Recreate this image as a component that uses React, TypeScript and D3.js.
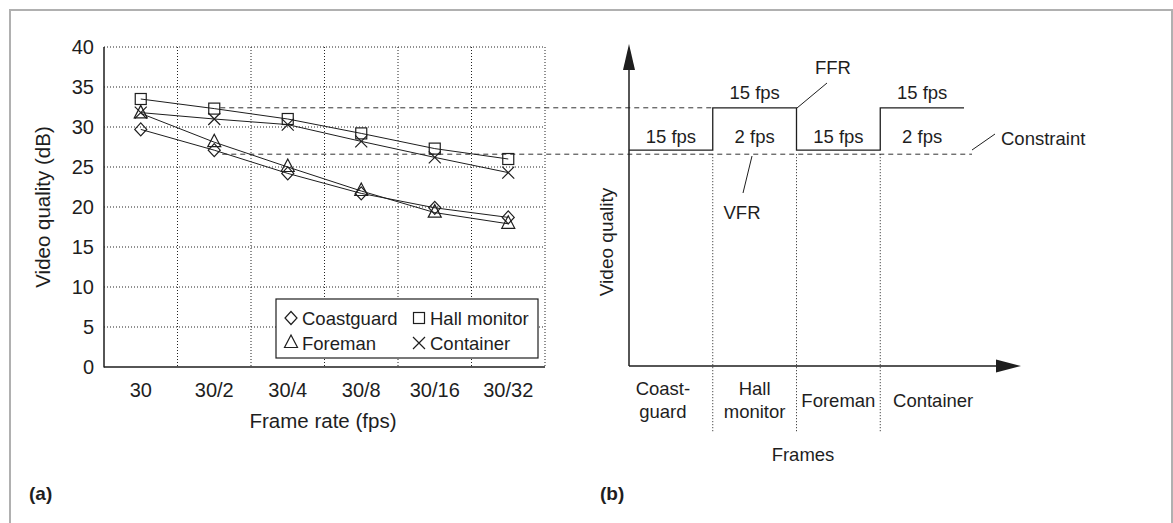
import * as d3 from 'd3';

// left panel data
const frameRates = ['30', '30/2', '30/4', '30/8', '30/16', '30/32'];
const coastguard = [29.7, 27.1, 24.2, 21.7, 19.9, 18.7];
const hallMonitor = [33.5, 32.3, 31.0, 29.2, 27.3, 26.0];
const foreman = [31.7, 28.1, 25.0, 22.0, 19.3, 17.9];
const container = [31.8, 31.0, 30.3, 28.2, 26.2, 24.3];
const yTicks = [0, 5, 10, 15, 20, 25, 30, 35, 40];

// right panel data
const frames = ['Coastguard', 'Hall monitor', 'Foreman', 'Container'];
const frameLines = [['Coast-', 'guard'], ['Hall', 'monitor'], ['Foreman'], ['Container']];
const stepLevel = [27.1, 32.4, 27.1, 32.4];
const lowLabels = ['15 fps', '2 fps', '15 fps', '2 fps'];
const highLabels = ['', '15 fps', '', '15 fps'];
const ffrLevel = 32.4;
const constraintLevel = 26.6;

const W = 1173;
const H = 523;
const font = '"Liberation Sans", Arial, Helvetica, sans-serif';
const ink = '#1e1e1e';
const grid = '#222';

const series = [
  { name: 'Coastguard', values: coastguard, shape: 'diamond' },
  { name: 'Hall monitor', values: hallMonitor, shape: 'square' },
  { name: 'Foreman', values: foreman, shape: 'triangle' },
  { name: 'Container', values: container, shape: 'cross' },
];

function Marker({ shape, x, y }: { shape: string; x: number; y: number }) {
  const s = 5.5;
  const common = { fill: 'none', stroke: ink, strokeWidth: 1.2 };
  if (shape === 'square') return <rect x={x - s} y={y - s} width={2 * s} height={2 * s} {...common} />;
  if (shape === 'diamond')
    return <path d={`M${x},${y - 6.5}L${x + 6},${y}L${x},${y + 6.5}L${x - 6},${y}Z`} {...common} />;
  if (shape === 'triangle')
    return <path d={`M${x},${y - 8}L${x + 6.5},${y + 4.5}L${x - 6.5},${y + 4.5}Z`} {...common} />;
  return <path d={`M${x - 6},${y - 6}L${x + 6},${y + 6}M${x + 6},${y - 6}L${x - 6},${y + 6}`} {...common} />;
}

export default function App() {
  const yL = d3.scaleLinear().domain([0, 40]).range([367, 47]);
  const xL = d3.scaleBand().domain(frameRates).range([104, 545]);
  const bw = xL.bandwidth();
  const cx = (r: string) => (xL(r) as number) + bw / 2;

  const xR = d3.scaleBand().domain(frames).range([629, 964]);
  const rbw = xR.bandwidth();
  const axisY0 = 366;

  const line = d3
    .line<number>()
    .x((_, i) => cx(frameRates[i]))
    .y(d => yL(d));

  const stepPts: [number, number][] = [];
  frames.forEach((f, i) => {
    const x0 = xR(f) as number;
    stepPts.push([x0, yL(stepLevel[i])]);
    stepPts.push([x0 + rbw, yL(stepLevel[i])]);
  });
  const stepPath = d3.line()(stepPts) as string;

  const labelOffset = [-8, 0, 0, 11];

  return (
    <svg width={W} height={H} style={{ position: 'absolute', left: 0, top: 0, background: '#fff' }} fontFamily={font}>
      {/* outer frame */}
      <path d={`M10,${H}V10H1172V${H}`} fill="none" stroke="#b0b0b0" strokeWidth={2} />

      {/* ---- panel (a) ---- */}
      {yTicks.filter(t => t > 0).map(t => (
        <line key={'h' + t} x1={104} x2={545} y1={yL(t)} y2={yL(t)} stroke={grid} strokeWidth={1} strokeDasharray="1,2" />
      ))}
      {frameRates.map(r => (
        <line key={'v' + r} x1={(xL(r) as number) + bw} x2={(xL(r) as number) + bw} y1={yL(40)} y2={yL(0)} stroke={grid} strokeWidth={1} strokeDasharray="1,2" />
      ))}
      <line x1={104} x2={104} y1={yL(40)} y2={yL(0) + 0.5} stroke={ink} strokeWidth={1.5} />
      <line x1={104} x2={545} y1={yL(0)} y2={yL(0)} stroke={ink} strokeWidth={1.5} />
      {yTicks.map(t => (
        <text key={'yt' + t} x={94} y={yL(t)} dy="0.36em" textAnchor="end" fontSize={20} fill={ink}>{t}</text>
      ))}
      {frameRates.map(r => (
        <text key={'xt' + r} x={cx(r)} y={397} textAnchor="middle" fontSize={20} fill={ink}>{r}</text>
      ))}
      <text x={323} y={428} textAnchor="middle" fontSize={20.5} fill={ink}>Frame rate (fps)</text>
      <text transform="translate(50,207) rotate(-90)" textAnchor="middle" fontSize={20.5} fill={ink}>Video quality (dB)</text>

      {/* dashed links to panel (b) */}
      <line x1={cx('30/2') + 6} x2={xR('Hall monitor') as number} y1={yL(ffrLevel)} y2={yL(ffrLevel)} stroke="#333" strokeWidth={1} strokeDasharray="5,4" />
      <line x1={cx('30/2') + 8} x2={972} y1={yL(constraintLevel)} y2={yL(constraintLevel)} stroke="#333" strokeWidth={1} strokeDasharray="5,4" />

      {series.map(s => (
        <g key={s.name}>
          <path d={line(s.values) as string} fill="none" stroke={ink} strokeWidth={1} />
          {s.values.map((v, i) => (
            <Marker key={i} shape={s.shape} x={cx(frameRates[i])} y={yL(v)} />
          ))}
        </g>
      ))}

      {/* legend */}
      <rect x={276} y={299} width={262} height={59} fill="#fff" stroke={ink} strokeWidth={1.2} />
      {series.map((s, i) => {
        const col = i % 2;
        const row = Math.floor(i / 2);
        const mx = col === 0 ? 291 : 419;
        const my = row === 0 ? 318 : 343;
        return (
          <g key={'lg' + s.name}>
            <Marker shape={s.shape} x={mx} y={my} />
            <text x={mx + 11} y={my} dy="0.36em" fontSize={18.5} fill={ink}>{s.name}</text>
          </g>
        );
      })}

      <text x={29} y={500} fontSize={19} fontWeight="bold" fill={ink}>(a)</text>

      {/* ---- panel (b) ---- */}
      {frames.slice(1).map(f => (
        <line key={'d' + f} x1={xR(f) as number} x2={xR(f) as number} y1={yL(constraintLevel)} y2={433} stroke={grid} strokeWidth={1} strokeDasharray="1,2" />
      ))}
      {/* axes with arrows */}
      <line x1={629} x2={629} y1={axisY0} y2={66} stroke={ink} strokeWidth={1.5} />
      <path d="M629,44L635,70L623,70Z" fill={ink} />
      <line x1={629} x2={1000} y1={axisY0} y2={axisY0} stroke={ink} strokeWidth={1.5} />
      <path d="M1021,366L996,359.5L996,372.5Z" fill={ink} />

      <path d={stepPath} fill="none" stroke={ink} strokeWidth={1.3} />

      {frames.map((f, i) => (
        <text key={'lo' + f} x={(xR(f) as number) + rbw / 2} y={143} textAnchor="middle" fontSize={18.5} fill={ink}>{lowLabels[i]}</text>
      ))}
      {frames.map((f, i) =>
        highLabels[i] ? (
          <text key={'hi' + f} x={(xR(f) as number) + rbw / 2} y={99} textAnchor="middle" fontSize={18.5} fill={ink}>{highLabels[i]}</text>
        ) : null
      )}

      {/* annotations */}
      <line x1={797} y1={108} x2={827} y2={83} stroke={ink} strokeWidth={1} />
      <text x={833} y={74} textAnchor="middle" fontSize={18.5} fill={ink}>FFR</text>
      <line x1={752} y1={156} x2={743} y2={193} stroke={ink} strokeWidth={1} />
      <text x={742} y={219} textAnchor="middle" fontSize={18.5} fill={ink}>VFR</text>
      <line x1={972} y1={150} x2={995} y2={134} stroke={ink} strokeWidth={1} />
      <text x={1001} y={145} fontSize={18.5} fill={ink}>Constraint</text>

      {frames.map((f, i) => {
        const lines = frameLines[i];
        const x = (xR(f) as number) + rbw / 2 + labelOffset[i];
        return lines.length === 1 ? (
          <text key={'fl' + f} x={x} y={407} textAnchor="middle" fontSize={18.5} fill={ink}>{lines[0]}</text>
        ) : (
          <text key={'fl' + f} textAnchor="middle" fontSize={18.5} fill={ink}>
            <tspan x={x} y={395}>{lines[0]}</tspan>
            <tspan x={x} y={418}>{lines[1]}</tspan>
          </text>
        );
      })}
      <text x={803} y={461} textAnchor="middle" fontSize={18.5} fill={ink}>Frames</text>
      <text transform="translate(613,242) rotate(-90)" textAnchor="middle" fontSize={19} fill={ink}>Video quality</text>

      <text x={600} y={500} fontSize={19} fontWeight="bold" fill={ink}>(b)</text>
    </svg>
  );
}
